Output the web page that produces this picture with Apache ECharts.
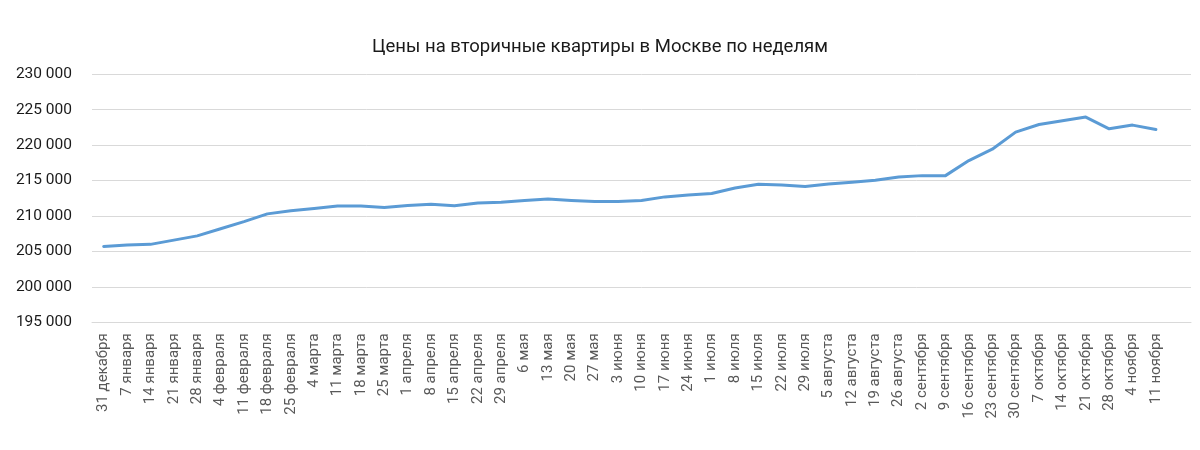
<!DOCTYPE html>
<html>
<head>
<meta charset="utf-8">
<script src="https://cdn.jsdelivr.net/npm/echarts@6/dist/echarts.min.js"></script>
<style>html,body{margin:0;padding:0;background:#fff}#c{width:1200px;height:450px}</style>
</head>
<body>
<div id="c"></div>
<script>
const chartTitle = 'Цены на вторичные квартиры в Москве по неделям';
const weeks = ['31 декабря','7 января','14 января','21 января','28 января','4 февраля','11 февраля','18 февраля','25 февраля','4 марта','11 марта','18 марта','25 марта','1 апреля','8 апреля','15 апреля','22 апреля','29 апреля','6 мая','13 мая','20 мая','27 мая','3 июня','10 июня','17 июня','24 июня','1 июля','8 июля','15 июля','22 июля','29 июля','5 августа','12 августа','19 августа','26 августа','2 сентября','9 сентября','16 сентября','23 сентября','30 сентября','7 октября','14 октября','21 октября','28 октября','4 ноября','11 ноября',''];
const prices = [205700,205900,206000,206600,207200,208200,209200,210300,210750,211050,211400,211400,211200,211500,211650,211450,211850,211950,212200,212400,212200,212050,212050,212200,212700,212970,213170,213950,214480,214380,214180,214520,214760,215050,215520,215700,215700,217830,219430,221840,222920,223440,223960,222310,222830,222220,null];
const yMin = 195000, yMax = 230000, yStep = 5000;

const chart = echarts.init(document.getElementById('c'), null, {renderer:'canvas'});
chart.setOption({
  animation:false,
  backgroundColor:'#ffffff',
  title:{text:chartTitle,left:'center',top:33,textStyle:{fontFamily:'Roboto',fontSize:18.5,fontWeight:'normal',color:'#1a1a1a'}},
  grid:{left:92,right:9,top:74.3,bottom:127.7,containLabel:false},
  xAxis:{type:'category',data:weeks,boundaryGap:true,
    axisLine:{lineStyle:{color:'#d9d9d9',width:1}},
    axisTick:{show:false},
    axisLabel:{rotate:90,interval:0,margin:11,fontFamily:'Roboto',fontSize:15,color:'#595959'}},
  yAxis:{type:'value',min:yMin,max:yMax,interval:yStep,
    axisLine:{show:false},axisTick:{show:false},
    splitLine:{lineStyle:{color:'#d9d9d9',width:1}},
    axisLabel:{margin:20,fontFamily:'Roboto',fontSize:15.5,color:'#1a1a1a',
      formatter:v=>String(v).replace(/\B(?=(\d{3})+(?!\d))/g,' ')}},
  series:[{type:'line',data:prices,showSymbol:false,symbol:'none',
    lineStyle:{color:'#5b9bd5',width:3,cap:'round',join:'round'},itemStyle:{color:'#5b9bd5'}}]
});
</script>
</body>
</html>
